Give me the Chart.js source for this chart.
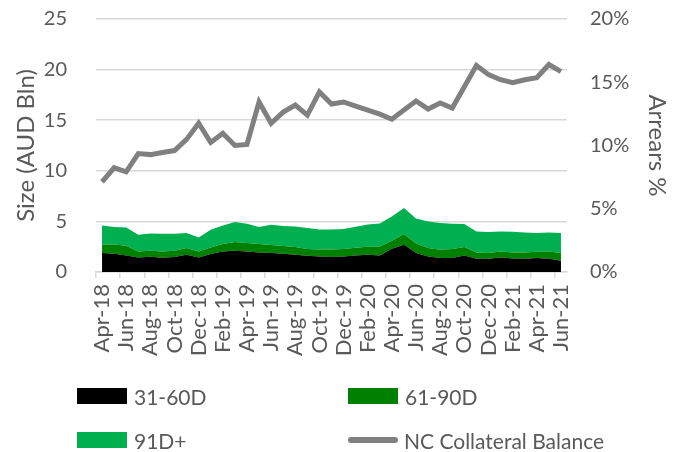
<!DOCTYPE html>
<html>
<head>
<meta charset="utf-8">
<script src="https://cdn.jsdelivr.net/npm/chart.js@4.4.1/dist/chart.umd.min.js"></script>
<style>
  html, body { margin: 0; padding: 0; background: #fff; }
  #wrap { position: relative; width: 678px; height: 452px; font-family: Lato, sans-serif; color: #595959; }
  #arrearsChart { position: absolute; left: 0; top: 0; }
  .leg { position: absolute; display: flex; align-items: center; font-size: 21px; white-space: nowrap; }
  .sw { width: 50px; height: 16px; margin-right: 7px; }
  .swLine { width: 50px; height: 6px; border-radius: 3px; margin-right: 6px; }
</style>
</head>
<body>
<div id="wrap">
  <canvas id="arrearsChart" width="678" height="452"></canvas>
  <div id="legend"></div>
</div>
<script>
const months=['Apr-18','May-18','Jun-18','Jul-18','Aug-18','Sep-18','Oct-18','Nov-18','Dec-18','Jan-19','Feb-19','Mar-19',
  'Apr-19','May-19','Jun-19','Jul-19','Aug-19','Sep-19','Oct-19','Nov-19','Dec-19','Jan-20','Feb-20','Mar-20',
  'Apr-20','May-20','Jun-20','Jul-20','Aug-20','Sep-20','Oct-20','Nov-20','Dec-20','Jan-21','Feb-21','Mar-21',
  'Apr-21','May-21','Jun-21'];

// arrears buckets, % (right axis), stacked
const arrears31to60=[1.50,1.44,1.31,1.15,1.21,1.13,1.18,1.37,1.15,1.42,1.63,1.68,1.63,1.55,1.50,1.44,1.37,1.29,1.23,1.18,
  1.23,1.31,1.37,1.31,1.84,2.16,1.50,1.23,1.11,1.11,1.31,1.05,1.05,1.15,1.07,1.05,1.11,1.05,0.89];
const arrears61to90=[0.66,0.74,0.77,0.48,0.47,0.50,0.50,0.52,0.48,0.52,0.58,0.69,0.66,0.66,0.63,0.61,0.60,0.53,0.55,0.60,
  0.59,0.61,0.63,0.71,0.63,0.84,0.75,0.66,0.65,0.71,0.66,0.50,0.45,0.48,0.48,0.50,0.49,0.58,0.61];
const arrears91plus=[1.52,1.37,1.44,1.32,1.37,1.39,1.34,1.19,1.10,1.40,1.47,1.58,1.52,1.34,1.60,1.58,1.63,1.65,1.58,1.58,
  1.58,1.66,1.76,1.82,1.92,2.05,1.97,2.11,2.11,1.99,1.82,1.66,1.66,1.58,1.63,1.58,1.48,1.50,1.58];

// NC collateral balance, AUD Bln (left axis)
const collateralBalance=[8.9,10.3,9.9,11.7,11.6,11.8,12.0,13.1,14.7,12.8,13.7,12.5,12.6,16.8,14.7,15.8,16.5,15.5,17.8,16.6,
  16.8,16.4,16.0,15.6,15.1,16.0,16.9,16.1,16.7,16.2,18.3,20.4,19.5,19.0,18.7,19.0,19.2,20.5,19.8];

const leftTicks=[0,5,10,15,20,25];
const rightTicks=[0,5,10,15,20];

const textColor='#595959';
const gridColor='#d9d9d9';
const font='Lato, sans-serif';

function areaSet(label,data,color,fill){
  return {
    type:'line',
    label:label,
    data:data,
    yAxisID:'y1',
    backgroundColor:color,
    borderColor:color,
    borderWidth:0,
    pointRadius:0,
    fill:fill,
    order:1
  };
}

// fixed axis sizes so the plot area sits where it does in the original
function fixWidth(w){
  return (s)=>{ s.width=w; s.paddingTop=0; s.paddingBottom=0; };
}

const ctx=document.getElementById('arrearsChart').getContext('2d');
const chart=new Chart(ctx,{
  type:'line',
  data:{
    labels:months,
    datasets:[
      areaSet('31-60D',arrears31to60,'#000000','origin'),
      areaSet('61-90D',arrears61to90,'#008000','-1'),
      areaSet('91D+',arrears91plus,'#00b050','-1'),
      {
        label:'NC Collateral Balance',
        data:collateralBalance,
        yAxisID:'y',
        borderColor:'#808080',
        borderWidth:5,
        pointRadius:0,
        fill:false,
        tension:0,
        order:0
      }
    ]
  },
  options:{
    responsive:false,
    animation:false,
    layout:{padding:{left:10,right:0,top:19,bottom:80}},
    plugins:{legend:{display:false},tooltip:{enabled:false}},
    scales:{
      x:{
        offset:true,
        grid:{
          offset:true,
          drawOnChartArea:false,
          tickLength:6,
          lineWidth:1.5,
          color:(c)=> c.index%2===0 ? gridColor : 'rgba(0,0,0,0)'
        },
        border:{color:gridColor,width:1.5},
        ticks:{
          autoSkip:false,
          minRotation:90,
          maxRotation:90,
          padding:6,
          color:textColor,
          font:{family:font,size:22},
          callback:function(value,index){
            return index%2===0 ? this.getLabelForValue(value) : '';
          }
        },
        afterFit:(s)=>{ s.height=100; s.paddingLeft=0; s.paddingRight=0; }
      },
      y:{
        position:'left',
        min:0,
        max:25,
        afterBuildTicks:(s)=>{ s.ticks=leftTicks.map(v=>({value:v})); },
        grid:{color:gridColor,lineWidth:1.5,drawTicks:false},
        border:{display:false},
        ticks:{color:textColor,padding:29,font:{family:font,size:20}},
        title:{display:true,text:'Size (AUD Bln)',color:textColor,font:{family:font,size:24},padding:{top:2,bottom:0}},
        afterFit:fixWidth(86)
      },
      y1:{
        position:'right',
        stacked:true,
        min:0,
        max:20,
        afterBuildTicks:(s)=>{ s.ticks=rightTicks.map(v=>({value:v})); },
        grid:{display:false,drawTicks:false},
        border:{display:false},
        ticks:{color:textColor,padding:23,font:{family:font,size:20},callback:(v)=>v+'%'},
        title:{display:true,text:'Arrears %',color:textColor,font:{family:font,size:24},padding:{top:7,bottom:0}},
        afterFit:fixWidth(111)
      }
    }
  }
});

// legend laid out as in the original: two columns, two rows
const legendPos=[[77,396],[348,396],[77,440],[348,440]];
const legendBox=document.getElementById('legend');
chart.data.datasets.forEach((ds,i)=>{
  const item=document.createElement('div');
  item.className='leg';
  item.style.left=legendPos[i][0]+'px';
  item.style.top=(legendPos[i][1]-13)+'px';
  item.style.height='26px';
  const sw=document.createElement('span');
  if(ds.yAxisID==='y'){
    sw.className='swLine';
    sw.style.background=ds.borderColor;
  }else{
    sw.className='sw';
    sw.style.background=ds.backgroundColor;
  }
  item.appendChild(sw);
  item.appendChild(document.createTextNode(ds.label));
  legendBox.appendChild(item);
});
</script>
</body>
</html>
